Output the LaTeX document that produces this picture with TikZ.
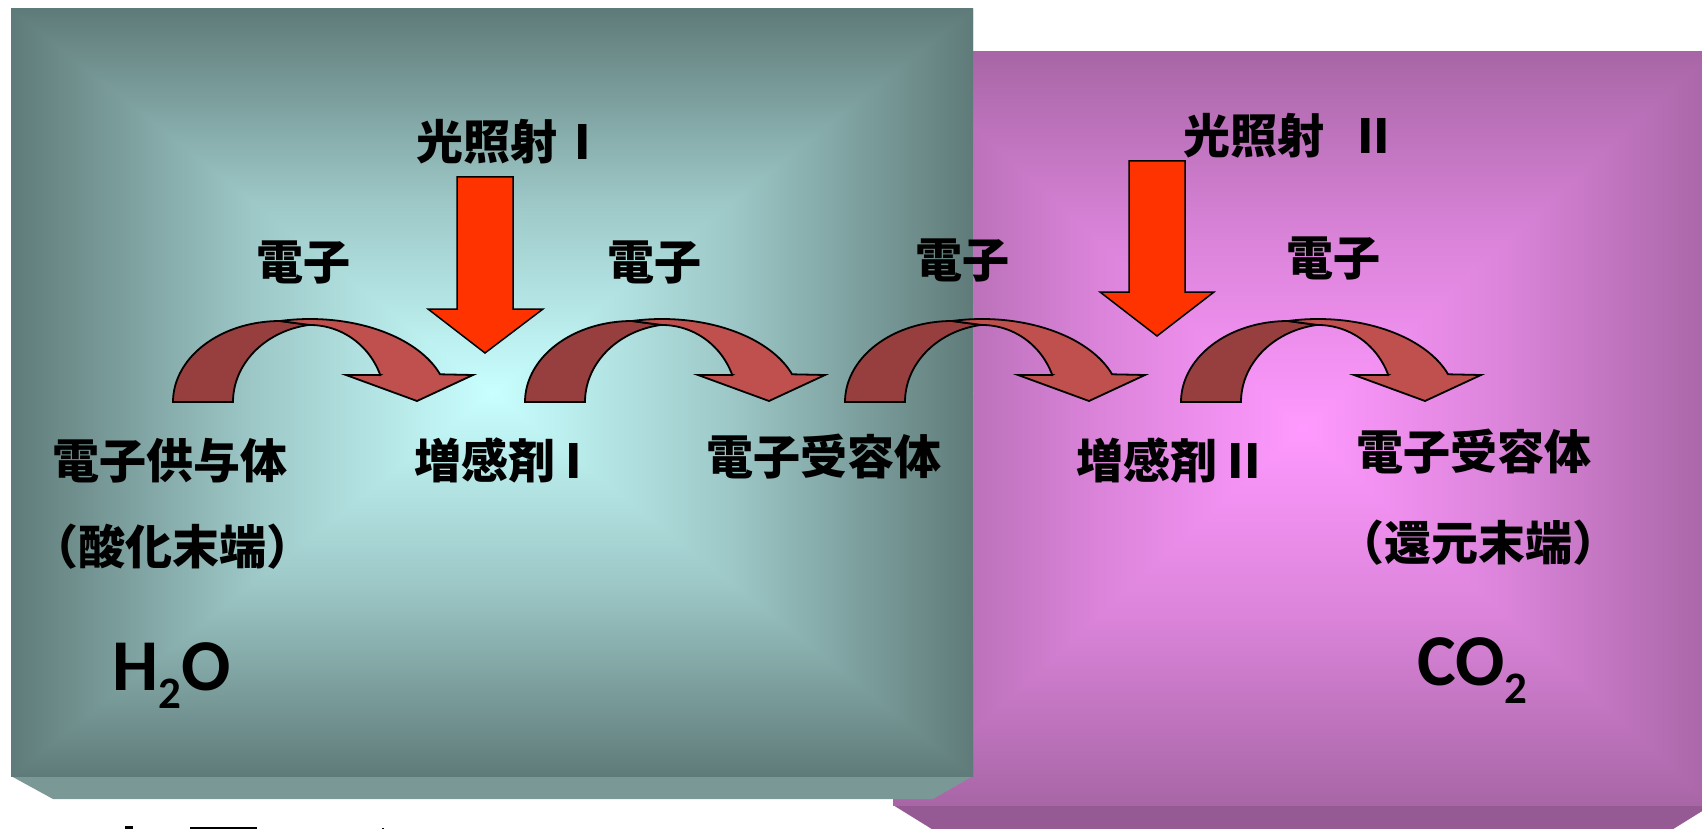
\documentclass[tikz,border=0pt]{standalone}
\usepackage{fontspec}
\newfontfamily\jp{Noto Sans CJK JP}
\newfontfamily\carl{Carlito}
\newcommand\subtxtfont{\carl\bfseries\fontsize{45}{46}\selectfont}
\definecolor{tealE}{HTML}{5F7B79}
\definecolor{tealC}{HTML}{C9FFFF}
\definecolor{purE}{HTML}{A866A6}
\definecolor{purC}{HTML}{FF99FF}
\definecolor{tealTray}{HTML}{7A9896}
\definecolor{purTray}{HTML}{955A94}
\definecolor{arrDark}{HTML}{963F3E}
\definecolor{arrLight}{HTML}{C0504D}
\definecolor{lightRed}{HTML}{FF3300}
\colorlet{tealM}{tealE!42!tealC}
\colorlet{purM}{purE!42!purC}
% rectangular (path) gradient: x1 y1 x2 y2 edge middle center
\newcommand\mygradbox[7]{%
  \coordinate (gc) at ({(#1+#3)/2},{(#2+#4)/2});
  \shade[top color=#5,bottom color=#7,middle color=#6] (#1,#2) rectangle ({#3},{(#2+#4)/2});
  \shade[top color=#7,bottom color=#5,middle color=#6] (#1,{(#2+#4)/2}) rectangle (#3,#4);
  \shade[left color=#5,right color=#7,middle color=#6] (#1,#2) -- (#1,#4) -- (gc) -- cycle;
  \shade[left color=#7,right color=#5,middle color=#6] (#3,#2) -- (#3,#4) -- (gc) -- cycle;
}
\newcommand\curvarr[1]{%
  \begin{scope}[shift={(#1,0)}]
    \filldraw[darkband] (0,402)
      -- plot[domain=180:90,samples=40] ({107+107*cos(\x)},{402-81*sin(\x)})
      -- (137,325)
      -- plot[domain=98.3:180,samples=40] ({150+90*cos(\x)},{402-78*sin(\x)})
      -- cycle;
    \filldraw[lightband] (107,321)
      -- plot[domain=102.6:19.5,samples=50] ({137+138*cos(\x)},{402-83*sin(\x)})
      -- (300,375) -- (244,401) -- (173,375) -- (207.3,375)
      -- plot[domain=20.5:90,samples=40] ({137+75*cos(\x)},{402-77*sin(\x)})
      -- cycle;
  \end{scope}}
\begin{document}
\begin{tikzpicture}[x=1pt,y=-1pt,
  jtxt/.style={font=\jp\bfseries\fontsize{47}{52}\selectfont,inner sep=0pt,anchor=west,text=black},
  chemtxt/.style={font=\carl\bfseries\fontsize{73}{76}\selectfont,inner sep=0pt,anchor=base west,text=black},
  darkband/.style={fill=arrDark,draw=black,line width=1.8pt},
  lightband/.style={fill=arrLight,draw=black,line width=1.8pt},
  redarr/.style={fill=lightRed,draw=black,line width=1.5pt}]
\useasboundingbox (0,0) rectangle (1702,829);
\clip (0,0) rectangle (1702,829);
\fill[white] (0,0) rectangle (1702,829);
% purple box
\fill[purTray] (893,805) -- (1712,805) -- (1670,831) -- (935,831) -- cycle;
\mygradbox{893}{52}{1712}{805}{purE}{purM}{purC}
% teal box
\fill[tealTray] (11,776) -- (973,776) -- (933,799) -- (53,799) -- cycle;
\mygradbox{11}{9}{973}{776}{tealE}{tealM}{tealC}
% light arrows
\filldraw[redarr] (457,177) -- (513,177) -- (513,309) -- (543,309) -- (485,353) -- (428,309) -- (457,309) -- cycle;
\filldraw[redarr] (1129,161) -- (1185,161) -- (1185,292) -- (1214,292) -- (1157,336) -- (1100,292) -- (1129,292) -- cycle;
% curved electron arrows
\curvarr{173}
\curvarr{525}
\curvarr{845}
\curvarr{1181}
% texts
\node[jtxt] (lightI) at (416,142) {光照射\hspace{0.36em}I};
\node[jtxt] (lightII) at (1183,136) {光照射\hspace{0.7em}II};
\node[jtxt] (e1) at (256,262) {電子};
\node[jtxt] (e2) at (607,262) {電子};
\node[jtxt] (e3) at (915,260) {電子};
\node[jtxt] (e4) at (1286,258) {電子};
\node[jtxt] (donor) at (52,461) {電子供与体};
\node[jtxt] (oxid) at (31,547) {（酸化末端）};
\node[jtxt] (sensI) at (414,460) {増感剤 I};
\node[jtxt] (accI) at (706,457) {電子受容体};
\node[jtxt] (sensII) at (1076,460) {増感剤 II};
\node[jtxt] (accII) at (1356,452) {電子受容体};
\node[jtxt] (redu) at (1337,543) {（還元末端）};
\node[chemtxt] (h2o) at (112,690) {H\raisebox{-18pt}{\subtxtfont 2}O};
\node[chemtxt] (co2) at (1417,685) {CO\raisebox{-18pt}{\subtxtfont 2}};
% cut-off glyph tops at the bottom edge
\fill[black] (125,826) rectangle (133,830);
\fill[black] (190,827) rectangle (257,830);
\fill[black] (382,828) rectangle (384,830);
\end{tikzpicture}
\end{document}
